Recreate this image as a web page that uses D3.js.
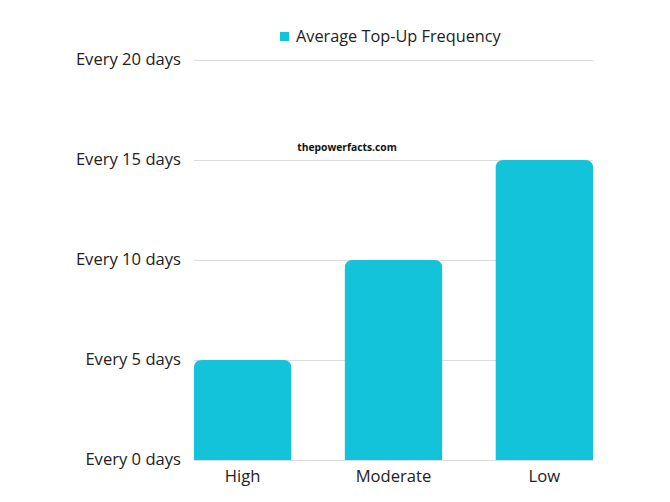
<!DOCTYPE html>
<html>
<head>
<meta charset="utf-8">
<script src="https://cdn.jsdelivr.net/npm/d3@7"></script>
<style>
  body { margin: 0; background: #fff; }
  text { font-family: "Open Sans", sans-serif; }
</style>
</head>
<body>
<svg id="chart" width="670" height="502"></svg>
<script>
  // Data
  let categories = ["High", "Moderate", "Low"];
  let values = [5, 10, 15];
  let ticks = [0, 5, 10, 15, 20];
  let tickLabels = ["Every 0 days", "Every 5 days", "Every 10 days", "Every 15 days", "Every 20 days"];
  let seriesName = "Average Top-Up Frequency";

  let svg = d3.select("#chart");
  let color = "#13c3d9";

  let x = d3.scaleBand().domain(categories).range([194, 593]).paddingInner(0.355).paddingOuter(0);
  let y = d3.scaleLinear().domain([0, 20]).range([460, 60]);

  // Gridlines
  svg.append("g")
    .selectAll("line")
    .data(ticks)
    .enter()
    .append("line")
    .attr("x1", 194)
    .attr("x2", 593)
    .attr("y1", (d) => y(d) + 0.5)
    .attr("y2", (d) => y(d) + 0.5)
    .attr("stroke", "#dcdcdc")
    .attr("stroke-width", 1);

  // Y labels
  svg.append("g")
    .selectAll("text")
    .data(ticks)
    .enter()
    .append("text")
    .attr("x", 181)
    .attr("y", (d) => y(d))
    .attr("dy", "0.3em")
    .attr("text-anchor", "end")
    .attr("font-size", "16.6px")
    .attr("fill", "#222")
    .text((d, i) => tickLabels[i]);

  // Bars with rounded tops
  let r = 8;
  svg.append("g")
    .selectAll("path")
    .data(values)
    .enter()
    .append("path")
    .attr("fill", color)
    .attr("d", (d, i) => {
      let x0 = x(categories[i]), w = x.bandwidth(), y0 = y(d), y1 = y(0);
      return `M${x0},${y1} V${y0 + r} Q${x0},${y0} ${x0 + r},${y0} H${x0 + w - r} Q${x0 + w},${y0} ${x0 + w},${y0 + r} V${y1} Z`;
    });

  // X labels
  svg.append("g")
    .selectAll("text")
    .data(categories)
    .enter()
    .append("text")
    .attr("x", (d) => x(d) + x.bandwidth() / 2)
    .attr("y", 482)
    .attr("text-anchor", "middle")
    .attr("font-size", "16.6px")
    .attr("fill", "#222")
    .text((d) => d);

  // Legend
  svg.append("rect")
    .attr("x", 280)
    .attr("y", 32)
    .attr("width", 9)
    .attr("height", 9)
    .attr("fill", color);
  svg.append("text")
    .attr("x", 296)
    .attr("y", 42)
    .attr("font-size", "16.3px")
    .attr("fill", "#222")
    .text(seriesName);

  // Watermark
  svg.append("text")
    .attr("x", 347)
    .attr("y", 151)
    .attr("text-anchor", "middle")
    .attr("font-size", "10.3px")
    .attr("font-weight", "bold")
    .attr("fill", "#111")
    .text("thepowerfacts.com");
</script>
</body>
</html>
